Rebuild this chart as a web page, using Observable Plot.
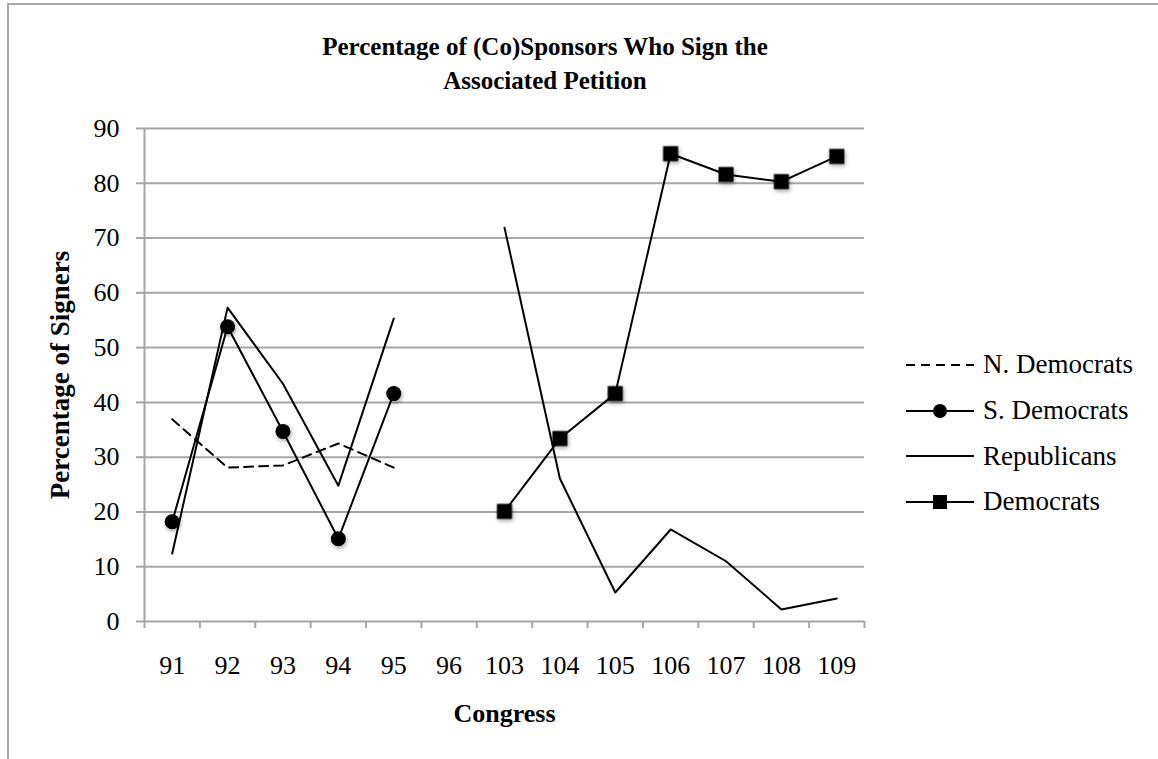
<!DOCTYPE html>
<html><head><meta charset="utf-8">
<script src="https://cdn.jsdelivr.net/npm/d3@7"></script>
<script src="https://cdn.jsdelivr.net/npm/@observablehq/plot@0.6"></script>
<style>
body{margin:0;background:#fff;}
#wrap{position:relative;width:1158px;height:759px;overflow:hidden;font-family:"Liberation Serif","Times New Roman",serif;color:#000;}
#frame{position:absolute;left:7px;top:3px;width:1200px;height:800px;border-left:2px solid #a8a8a8;border-top:2px solid #a8a8a8;}
#title{position:absolute;left:245px;width:600px;top:30px;text-align:center;font-weight:bold;font-size:25px;line-height:34px;}
#chart{position:absolute;left:0;top:0;}
#legend{position:absolute;left:905px;top:342px;font-size:27px;}
.item{display:flex;align-items:center;height:45.7px;}
.item svg{margin-right:8px;}
</style>
</head><body>
<div id="wrap">
  <div id="frame"></div>
  <div id="chart"></div>
  <div id="title">Percentage of (Co)Sponsors Who Sign the<br>Associated Petition</div>
  <div id="legend"></div>
</div>
<script>
const congress = ["91","92","93","94","95","96","103","104","105","106","107","108","109"];
const nDemocrats = [36.9, 28.1, 28.5, 32.5, 28.1, null, null, null, null, null, null, null, null];
const sDemocrats = [18.2, 53.8, 34.7, 15.1, 41.6, null, null, null, null, null, null, null, null];
const republicans = [12.4, 57.3, 43.4, 24.8, 55.3, null, 71.9, 26.1, 5.3, 16.8, 11.0, 2.2, 4.2];
const democrats = [null, null, null, null, null, null, 20.1, 33.4, 41.6, 85.4, 81.6, 80.3, 84.9];
const yTicks = [0, 10, 20, 30, 40, 50, 60, 70, 80, 90];
const seriesNames = ["N. Democrats", "S. Democrats", "Republicans", "Democrats"];

const rows = vals => congress.map((c, i) => ({x: i + 0.5, y: vals[i] == null ? NaN : vals[i]}));
const pts = vals => rows(vals).filter(d => !isNaN(d.y));
const grid = "#a6a6a6";

const chart = Plot.plot({
  width: 1158, height: 759,
  marginLeft: 144, marginRight: 294, marginTop: 128, marginBottom: 138,
  style: {fontFamily: "'Liberation Serif', 'Times New Roman', serif", fontSize: "26px", color: "#000", background: "transparent", overflow: "visible"},
  x: {type: "linear", domain: [0, congress.length], axis: null},
  y: {domain: [0, 90], axis: null},
  marks: [
    Plot.ruleY(yTicks, {y: d => d, stroke: grid, strokeWidth: 2}),
    Plot.axisY({ticks: yTicks, tickSize: 8, tickPadding: 17, stroke: grid, strokeWidth: 2, label: null, fontSize: 26}),
    Plot.ruleX([0], {x: d => d, y1: 0, y2: 90, stroke: grid, strokeWidth: 2}),
    Plot.axisX({ticks: d3.range(congress.length + 1), tickFormat: () => "", tickSize: 7, stroke: grid, strokeWidth: 2, label: null}),
    Plot.axisX({ticks: d3.range(congress.length).map(i => i + 0.5), tickFormat: d => congress[Math.floor(d)], tickSize: 0, tickPadding: 34, label: null, fontSize: 26}),
    Plot.line(rows(nDemocrats), {x: "x", y: "y", stroke: "#000", strokeWidth: 2, strokeDasharray: "9,6"}),
    Plot.line(rows(republicans), {x: "x", y: "y", stroke: "#000", strokeWidth: 2}),
    Plot.line(rows(sDemocrats), {x: "x", y: "y", stroke: "#000", strokeWidth: 2}),
    Plot.dot(pts(sDemocrats), {x: "x", y: "y", r: 7.5, fill: "#000", stroke: "none"}),
    Plot.line(rows(democrats), {x: "x", y: "y", stroke: "#000", strokeWidth: 2}),
    Plot.dot(pts(democrats), {x: "x", y: "y", r: 8.5, symbol: "square", fill: "#000", stroke: "none"}),
    Plot.text(["Congress"], {frameAnchor: "bottom", dy: 100, fontWeight: "bold", fontSize: 26, text: d => d}),
    Plot.text(["Percentage of Signers"], {frameAnchor: "left", textAnchor: "middle", dx: -84, rotate: -90, fontWeight: "bold", fontSize: 27, text: d => d})
  ]
});
document.getElementById("chart").appendChild(chart);
d3.select(chart).selectAll("g[aria-label='dot']")
  .style("filter", "drop-shadow(1px 2px 2px rgba(0,0,0,0.35))");

// legend
const legend = d3.select("#legend");
seriesNames.forEach((name, k) => {
  const item = legend.append("div").attr("class", "item");
  const s = item.append("svg").attr("width", 70).attr("height", 20);
  s.append("line").attr("x1", 1).attr("x2", 69).attr("y1", 10).attr("y2", 10)
    .attr("stroke", "#000").attr("stroke-width", 2)
    .attr("stroke-dasharray", k === 0 ? "9,6" : null);
  if (k === 1) s.append("circle").attr("cx", 35).attr("cy", 10).attr("r", 7).attr("fill", "#000");
  if (k === 3) s.append("rect").attr("x", 28).attr("y", 3).attr("width", 14).attr("height", 14).attr("fill", "#000");
  item.append("span").text(name);
});
</script>
</body></html>
